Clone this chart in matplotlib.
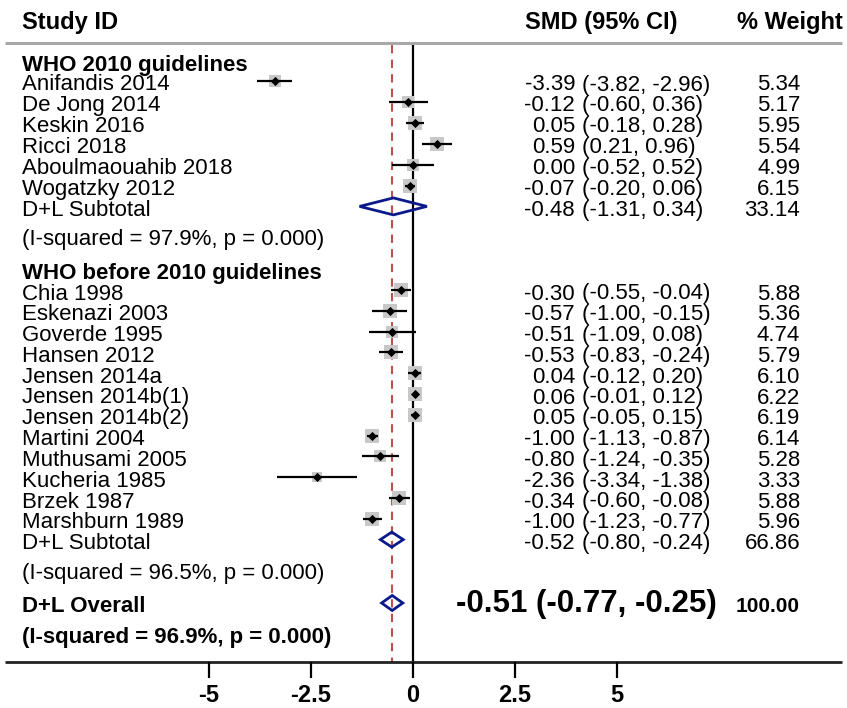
import matplotlib
matplotlib.use("Agg")
import matplotlib.pyplot as plt
import numpy as np
from matplotlib.patches import Polygon

plt.rcParams['font.family'] = ['Liberation Sans', 'DejaVu Sans']

# group 1: WHO 2010 guidelines
g1_names = ["Anifandis 2014", "De Jong 2014", "Keskin 2016", "Ricci 2018",
            "Aboulmaouahib 2018", "Wogatzky 2012"]
g1_est = [-3.39, -0.12, 0.05, 0.59, 0.00, -0.07]
g1_lo = [-3.82, -0.60, -0.18, 0.21, -0.52, -0.20]
g1_hi = [-2.96, 0.36, 0.28, 0.96, 0.52, 0.06]
g1_w = [5.34, 5.17, 5.95, 5.54, 4.99, 6.15]
g1_sub = (-0.48, -1.31, 0.34, 33.14)
g1_isq = "(I-squared = 97.9%, p = 0.000)"

# group 2: WHO before 2010 guidelines
g2_names = ["Chia 1998", "Eskenazi 2003", "Goverde 1995", "Hansen 2012",
            "Jensen 2014a", "Jensen 2014b(1)", "Jensen 2014b(2)", "Martini 2004",
            "Muthusami 2005", "Kucheria 1985", "Brzek 1987", "Marshburn 1989"]
g2_est = [-0.30, -0.57, -0.51, -0.53, 0.04, 0.06, 0.05, -1.00, -0.80, -2.36, -0.34, -1.00]
g2_lo = [-0.55, -1.00, -1.09, -0.83, -0.12, -0.01, -0.05, -1.13, -1.24, -3.34, -0.60, -1.23]
g2_hi = [-0.04, -0.15, 0.08, -0.24, 0.20, 0.12, 0.15, -0.87, -0.35, -1.38, -0.08, -0.77]
g2_w = [5.88, 5.36, 4.74, 5.79, 6.10, 6.22, 6.19, 6.14, 5.28, 3.33, 5.88, 5.96]
g2_sub = (-0.52, -0.80, -0.24, 66.86)
g2_isq = "(I-squared = 96.5%, p = 0.000)"

overall = (-0.51, -0.77, -0.25, 100.00)
overall_isq = "(I-squared = 96.9%, p = 0.000)"

xticks = [-5, -2.5, 0, 2.5, 5]
xtick_labels = ["-5", "-2.5", "0", "2.5", "5"]

# layout (pixels)
X0 = 413.0
SCALE = 40.8
W, H = 847, 708


def px(xp):
    return (xp - X0) / SCALE


fig = plt.figure(figsize=(W / 100, H / 100), dpi=100)
ax = fig.add_axes([0, 0, 1, 1])
ax.set_xlim(px(0), px(W))
ax.set_ylim(H, 0)
ax.axis('off')

FS = 16
study_col = px(22)
est_col = px(575)
ci_col = px(582)
w_col = px(800)


def fmt(v):
    return "%.2f" % v


def draw_study(y, name, e, lo, hi, w):
    side = 5.62 * np.sqrt(w) * 0.72
    ax.scatter([e], [y], marker='s', s=side ** 2, color='#c8c8c8', zorder=3, linewidths=0)
    ax.hlines(y, lo, hi, color='black', lw=1.6, zorder=4)
    ax.scatter([e], [y], marker='D', s=22, color='black', zorder=5, linewidths=0)
    ax.text(study_col, y + 4, name, fontsize=FS, va='center', ha='left')
    ax.text(est_col, y + 4, fmt(e), fontsize=FS, va='center', ha='right')
    ax.text(ci_col, y + 4, "(%s, %s)" % (fmt(lo), fmt(hi)), fontsize=FS, va='center', ha='left')
    ax.text(w_col, y + 4, fmt(w), fontsize=FS, va='center', ha='right')


def draw_diamond(y, e, lo, hi, h):
    poly = Polygon([(lo, y), (e, y - h / 2), (hi, y), (e, y + h / 2)], closed=True,
                   fill=False, edgecolor='#0a1a8a', lw=2.0, zorder=5)
    ax.add_patch(poly)


# header
ax.text(study_col, 22, "Study ID", fontsize=17, fontweight='bold', va='center')
ax.text(px(525), 22, "SMD (95% CI)", fontsize=17, fontweight='bold', va='center')
ax.text(px(843), 22, "% Weight", fontsize=17, fontweight='bold', va='center', ha='right')
ax.hlines(43, px(5), px(842), color='#a8a8a8', lw=2.2)

# reference lines
ax.vlines(0, 45, 662, color='black', lw=1.6, zorder=2)
ax.vlines(overall[0], 45, 662, color='#c0504d', lw=1.5, linestyles=(0, (4, 3)), zorder=2)

# group 1
ax.text(study_col, 65, "WHO 2010 guidelines", fontsize=FS, fontweight='bold', va='center')
for i in range(len(g1_names)):
    draw_study(81 + 20.9 * i, g1_names[i], g1_est[i], g1_lo[i], g1_hi[i], g1_w[i])
y = 81 + 20.9 * len(g1_names)
draw_diamond(y, g1_sub[0], g1_sub[1], g1_sub[2], 17)
ax.text(study_col, y + 4, "D+L Subtotal", fontsize=FS, va='center')
ax.text(est_col, y + 4, fmt(g1_sub[0]), fontsize=FS, va='center', ha='right')
ax.text(ci_col, y + 4, "(%s, %s)" % (fmt(g1_sub[1]), fmt(g1_sub[2])), fontsize=FS, va='center')
ax.text(w_col, y + 4, fmt(g1_sub[3]), fontsize=FS, va='center', ha='right')
ax.text(study_col, 240, g1_isq, fontsize=FS, va='center')

# group 2
ax.text(study_col, 273, "WHO before 2010 guidelines", fontsize=FS, fontweight='bold', va='center')
for i in range(len(g2_names)):
    draw_study(290 + 20.8 * i, g2_names[i], g2_est[i], g2_lo[i], g2_hi[i], g2_w[i])
y = 290 + 20.8 * len(g2_names)
draw_diamond(y, g2_sub[0], g2_sub[1], g2_sub[2], 15)
ax.text(study_col, y + 4, "D+L Subtotal", fontsize=FS, va='center')
ax.text(est_col, y + 4, fmt(g2_sub[0]), fontsize=FS, va='center', ha='right')
ax.text(ci_col, y + 4, "(%s, %s)" % (fmt(g2_sub[1]), fmt(g2_sub[2])), fontsize=FS, va='center')
ax.text(w_col, y + 4, fmt(g2_sub[3]), fontsize=FS, va='center', ha='right')
ax.text(study_col, 573, g2_isq, fontsize=FS, va='center')

# overall
draw_diamond(603, overall[0], overall[1], overall[2], 15)
ax.text(study_col, 606, "D+L Overall", fontsize=FS, fontweight='bold', va='center')
ax.text(px(717), 604, "%s (%s, %s)" % (fmt(overall[0]), fmt(overall[1]), fmt(overall[2])),
        fontsize=22.5, fontweight='bold', va='center', ha='right')
ax.text(w_col, 606, fmt(overall[3]), fontsize=15, fontweight='bold', va='center', ha='right')
ax.text(study_col, 637, overall_isq, fontsize=FS, fontweight='bold', va='center')

# x axis
ax.hlines(662, px(5), px(842), color='#222222', lw=2.0)
for t, lab in zip(xticks, xtick_labels):
    ax.vlines(t, 662, 678, color='black', lw=1.6)
    ax.text(t, 696, lab, fontsize=17, fontweight='bold', ha='center', va='center')

fig.savefig("out.png", dpi=100, facecolor='white')
